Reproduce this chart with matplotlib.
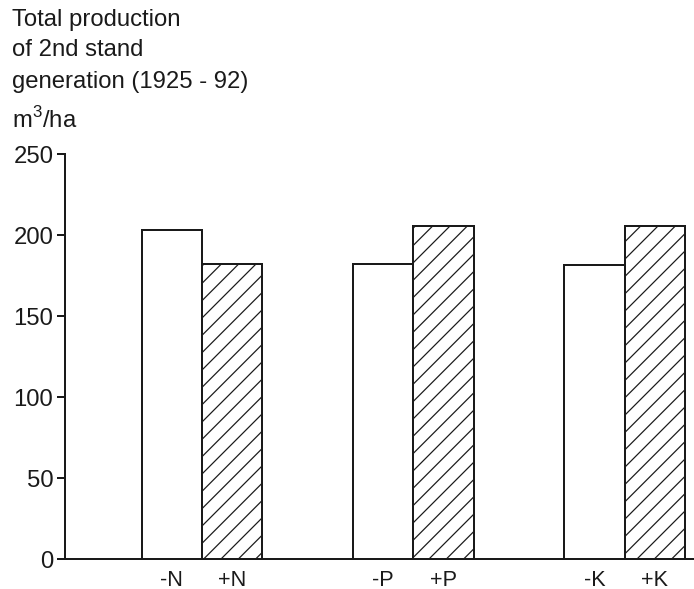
import matplotlib.pyplot as plt
import numpy as np

plt.rcParams['font.family'] = ['Liberation Sans', 'DejaVu Sans']
plt.rcParams['mathtext.fontset'] = 'custom'
plt.rcParams['mathtext.rm'] = 'Liberation Sans'
plt.rcParams['hatch.color'] = '#1a1a1a'

# nutrient treatments: without (-) and with (+) fertilizer
nutrients = ['N', 'P', 'K']
without_vals = [203, 182, 181.5]
with_vals = [182.5, 205.5, 206]
y_ticks = [0, 50, 100, 150, 200, 250]

ink = '#1a1a1a'
W, H, DPI = 694, 589, 104
k = 80 / DPI  # sizes below were tuned in points at 80 dpi
plt.rcParams['hatch.linewidth'] = 1.1 * k

fig = plt.figure(figsize=(W / DPI, H / DPI), dpi=DPI)
fig.set_facecolor('white')
ax = fig.add_axes((65 / W, 1 - 559.3 / H, 1 - 65 / W, (559.3 - 154.3) / H))

centers = np.arange(len(nutrients)) * 3.5
ax.bar(centers - 0.5, without_vals, width=1.0, color='white', edgecolor=ink, linewidth=1.8 * k)
ax.bar(centers + 0.5, with_vals, width=1.0, color='white', edgecolor=ink, linewidth=1.8 * k, hatch='//')

ax.set_xlim(-2.27, 8.15)
ax.set_ylim(0, 250)
ax.spines['top'].set_visible(False)
ax.spines['right'].set_visible(False)
for s in ['left', 'bottom']:
    ax.spines[s].set_linewidth(1.8 * k)
    ax.spines[s].set_color(ink)

xpos = np.concatenate([centers - 0.5, centers + 0.5])
xlab = [f'-{n}' for n in nutrients] + [f'+{n}' for n in nutrients]
ax.set_xticks(xpos)
ax.set_xticklabels(xlab, fontsize=19.5 * k, color=ink)
ax.tick_params(axis='x', length=0, pad=10 * k)
ax.set_yticks(y_ticks)
ax.set_yticklabels([str(v) for v in y_ticks], fontsize=21.5 * k, color=ink)
ax.tick_params(axis='y', direction='out', length=7 * k, width=1.8 * k, color=ink, pad=3.5 * k)

# heading lines above the axis
lines = ['Total production', 'of 2nd stand', 'generation (1925 - 92)']
for txt, yb in zip(lines, [26, 56, 88]):
    fig.text(12 / W, 1 - yb / H, txt, fontsize=21.5 * k, color=ink, va='baseline', ha='left')
fig.text(12 / W, 1 - 128 / H, r'm$^{\mathrm{3}}$/ha', fontsize=21.5 * k, color=ink, va='baseline', ha='left')

fig.savefig('out.png', dpi=DPI, facecolor='white')
